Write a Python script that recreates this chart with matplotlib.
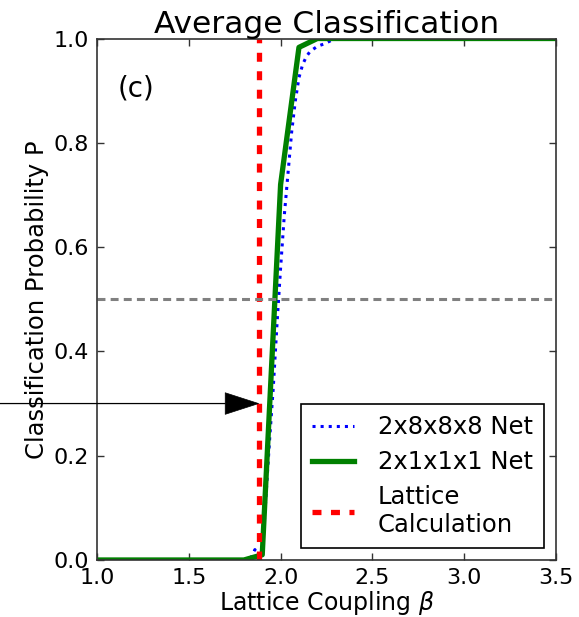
import matplotlib
matplotlib.use("Agg")
import matplotlib.pyplot as plt
import numpy as np

# Data
beta_big = [1.0, 1.2, 1.4, 1.6, 1.8, 1.82, 1.84, 1.86, 1.88, 1.90, 1.92, 1.94, 1.96, 1.98,
            2.00, 2.02, 2.04, 2.06, 2.08, 2.10, 2.12, 2.14, 2.16, 2.18, 2.20, 2.24,
            2.28, 2.32, 2.5, 3.0, 3.5]
p_big = [0.0, 0.0, 0.0, 0.0, 0.0, 0.0, 0.005, 0.02, 0.005, 0.01, 0.12, 0.23, 0.33, 0.45,
         0.56, 0.66, 0.74, 0.82, 0.88, 0.925, 0.95, 0.965, 0.975, 0.98, 0.985, 0.99,
         0.997, 1.0, 1.0, 1.0, 1.0]

beta_small = [1.0, 1.1, 1.2, 1.3, 1.4, 1.5, 1.6, 1.7, 1.8, 1.9, 2.0, 2.1, 2.2,
              2.3, 2.4, 2.5, 2.6, 2.7, 2.8, 2.9, 3.0, 3.1, 3.2, 3.3, 3.4, 3.5]
p_small = [0.0, 0.0, 0.0, 0.0, 0.0, 0.0, 0.0, 0.0, 0.0, 0.01, 0.72, 0.983, 1.0,
           1.0, 1.0, 1.0, 1.0, 1.0, 1.0, 1.0, 1.0, 1.0, 1.0, 1.0, 1.0, 1.0]

beta_lattice = 1.88
p_half = 0.5
arrow_p = 0.3

labels = ["2x8x8x8 Net", "2x1x1x1 Net", "Lattice\nCalculation"]
xticks = [1.0, 1.5, 2.0, 2.5, 3.0, 3.5]
yticks = [0.0, 0.2, 0.4, 0.6, 0.8, 1.0]

plt.rcParams['font.family'] = ['DejaVu Sans']
fig = plt.figure(figsize=(5.79, 6.17), dpi=100)
ax = fig.add_axes([0.1675, 0.0924, 0.7928, 0.8452])

ax.plot(beta_big, p_big, linestyle=':', color='blue', lw=2.2, label=labels[0])
ax.plot(beta_small, p_small, linestyle='-', color='green', lw=3.8, label=labels[1])
ax.plot([beta_lattice, beta_lattice], [0, 1], linestyle='--', color='red', lw=3.8,
        dashes=(1.7, 1.8), label=labels[2])
ax.axhline(p_half, color='gray', lw=2.2, linestyle='--', dashes=(2.6, 1.7))

ax.annotate('', xy=(beta_lattice, arrow_p), xycoords='data',
            xytext=(0.0, arrow_p), textcoords=('figure fraction', 'data'),
            arrowprops=dict(facecolor='black', edgecolor='black', width=0.4,
                            headwidth=15.5, headlength=24, shrink=0.0, lw=0.5),
            annotation_clip=False)

ax.set_xlim(1.0, 3.5)
ax.set_ylim(0.0, 1.0)
ax.set_xticks(xticks)
ax.set_yticks(yticks)
ax.tick_params(direction='in', length=5, width=1, top=True, right=True,
               labelsize=16, pad=6, color='#333333')
for s in ax.spines.values():
    s.set_color('#333333')
    s.set_linewidth(1.2)

ax.set_xlabel(r'Lattice Coupling $\beta$', fontsize=17, labelpad=0.5)
ax.set_ylabel('Classification Probability P', fontsize=17.5, labelpad=3)
ax.set_title('Average Classification', fontsize=22.5, pad=4)
ax.text(0.046, 0.905, '(c)', transform=ax.transAxes, fontsize=20, va='center', ha='left')

leg = ax.legend(loc='lower right', fontsize=17.5, fancybox=False, framealpha=1,
                edgecolor='black', handlelength=1.7, borderaxespad=0.5,
                labelspacing=0.45, handletextpad=1.0, borderpad=0.45)
leg.get_frame().set_linewidth(1.2)

fig.savefig('out.png', dpi=100)
